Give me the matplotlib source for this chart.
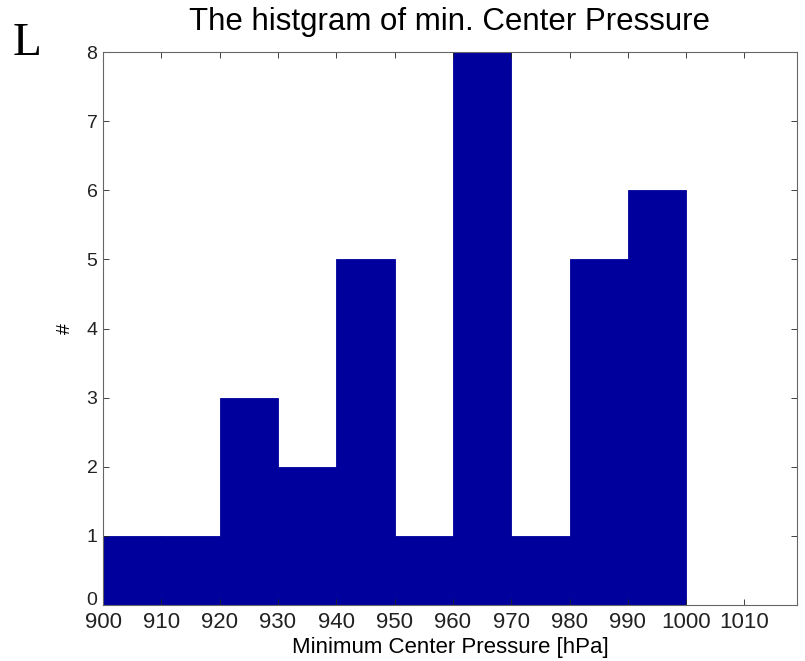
import matplotlib
matplotlib.use("Agg")
import matplotlib.pyplot as plt
import matplotlib.transforms as mtransforms
import numpy as np

# Histogram of minimum center pressure: 10 hPa bins from 900 to 1000
bin_edges = [900, 910, 920, 930, 940, 950, 960, 970, 980, 990, 1000]
counts = [1, 1, 3, 2, 5, 1, 8, 1, 5, 6]
x_ticks = [900, 910, 920, 930, 940, 950, 960, 970, 980, 990, 1000, 1010]
y_ticks = [0, 1, 2, 3, 4, 5, 6, 7, 8]

plt.rcParams['font.family'] = ['Liberation Sans', 'DejaVu Sans']

fig = plt.figure(figsize=(8.05, 6.61), dpi=100)
ax = fig.add_axes([0.128, 0.085, 0.862, 0.836])

lefts = bin_edges[:-1]
widths = np.diff(bin_edges)
bar_color = '#00009c'
ax.bar(lefts, counts, width=widths, align='edge', color=bar_color,
       edgecolor=bar_color, linewidth=0.6)

ax.set_xlim(900, 1019)
ax.set_ylim(0, 8)
ax.set_xticks(x_ticks)
ax.set_yticks(y_ticks)
ax.tick_params(direction='in', top=True, right=True, length=4, width=0.6,
               colors='#222222')
ax.tick_params(axis='x', pad=5, labelsize=16)
ax.tick_params(axis='y', pad=4, labelsize=14)
for s in ax.spines.values():
    s.set_color('#666666')
    s.set_linewidth(0.8)

# nudge the bottom y label up so it clears the x labels
fig.canvas.draw()
ylabels = ax.get_yticklabels()
ylabels[0].set_transform(ylabels[0].get_transform() +
                         mtransforms.ScaledTranslation(0, 6 / 100, fig.dpi_scale_trans))

ax.set_title('The histgram of min. Center Pressure', fontsize=22.5, pad=16)
ax.set_xlabel('Minimum Center Pressure [hPa]', fontsize=16, labelpad=3)
ax.set_ylabel('#', fontsize=14, rotation=90, labelpad=9)

fig.text(0.016, 1 - 55 / 661, 'L', fontsize=34, family='Liberation Serif',
         ha='left', va='baseline')

fig.savefig('out.png', dpi=100)
